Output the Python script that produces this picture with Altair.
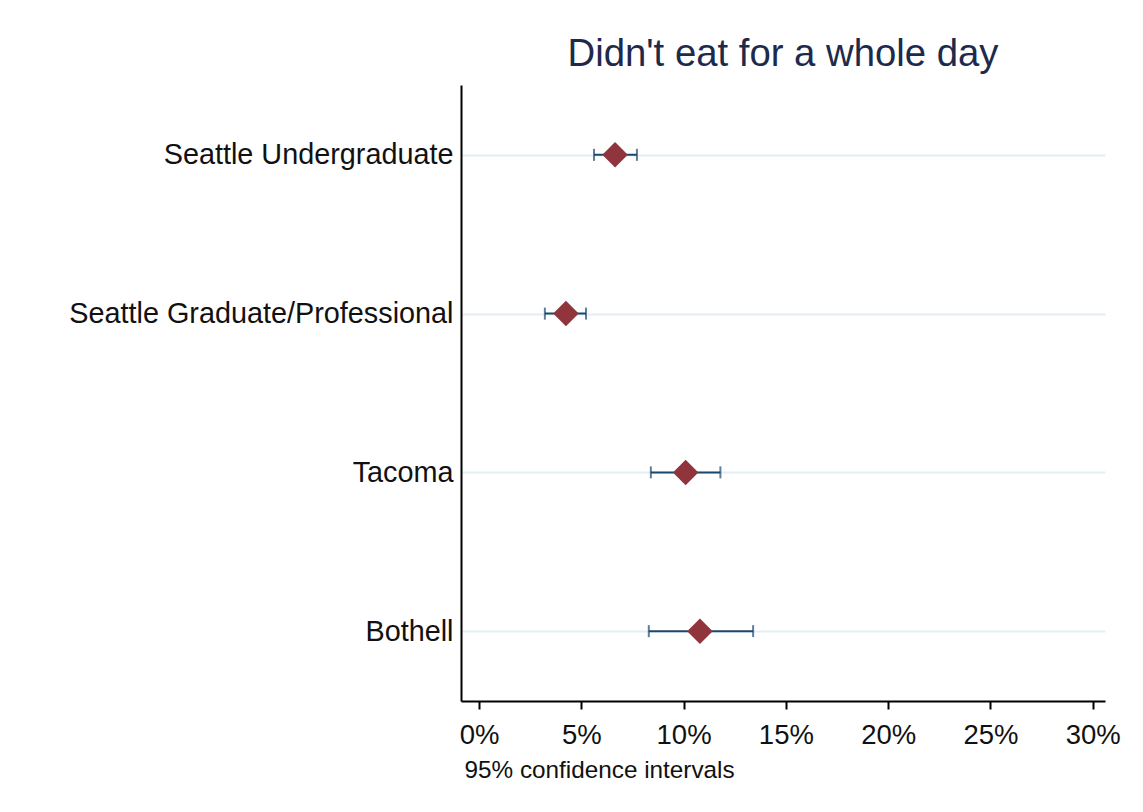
import altair as alt
import pandas as pd

groups = ["Seattle Undergraduate", "Seattle Graduate/Professional", "Tacoma", "Bothell"]
estimate = [0.0665, 0.0425, 0.1010, 0.1080]
ci_low = [0.0562, 0.0322, 0.0840, 0.0830]
ci_high = [0.0772, 0.0523, 0.1180, 0.1340]
x_ticks = [0.0, 0.05, 0.10, 0.15, 0.20, 0.25, 0.30]

df = pd.DataFrame({"group": groups, "est": estimate, "lo": ci_low, "hi": ci_high})

FONT = "Liberation Sans"
NAVY = "#1a476f"
MAROON = "#90353b"

x_scale = alt.Scale(domain=[-0.0088, 0.306], nice=False, zero=False)
y_scale = alt.Scale(type="point", padding=0.44)
y_enc = alt.Y("group:N", sort=groups, scale=y_scale,
              axis=alt.Axis(title=None, ticks=False, labelFontSize=28.8, labelFont=FONT,
                            labelColor="#111111", labelPadding=8, domainColor="#000000",
                            domainWidth=2, grid=True, gridColor="#e4edf1", gridWidth=2,
                            labelLimit=600))

x_axis = alt.Axis(values=x_ticks, format=".0%", title="95% confidence intervals",
                  titleFont=FONT, titleFontSize=24.3, titleFontWeight="normal",
                  titleColor="#111111", titleAnchor="start", titleAlign="left",
                  titleX=3, titlePadding=10,
                  labelFont=FONT, labelFontSize=27.5, labelColor="#111111", labelPadding=12,
                  tickColor="#000000", tickSize=8, tickWidth=2,
                  domainColor="#000000", domainWidth=2, grid=False)

base = alt.Chart(df)

rules = base.mark_rule(color=NAVY, strokeWidth=2).encode(
    x=alt.X("lo:Q", scale=x_scale, axis=x_axis), x2="hi:Q", y=y_enc)
cap_lo = base.mark_tick(color=NAVY, thickness=2, size=12).encode(
    x=alt.X("lo:Q", scale=x_scale), y=alt.Y("group:N", sort=groups, scale=y_scale))
cap_hi = base.mark_tick(color=NAVY, thickness=2, size=12).encode(
    x=alt.X("hi:Q", scale=x_scale), y=alt.Y("group:N", sort=groups, scale=y_scale))
points = base.mark_point(shape="diamond", filled=True, size=650, color=MAROON, opacity=1).encode(
    x=alt.X("est:Q", scale=x_scale), y=alt.Y("group:N", sort=groups, scale=y_scale))

chart = alt.layer(rules, cap_lo, cap_hi, points).properties(
    width=644, height=616,
    title=alt.TitleParams("Didn't eat for a whole day", font=FONT, fontSize=38.3,
                          fontWeight="normal", color="#1e2a4c", anchor="middle",
                          frame="group", offset=11),
    autosize=alt.AutoSizeParams(type="none"),
    padding={"left": 453, "top": 77, "right": 30, "bottom": 100},
).configure(background="white", view=alt.ViewConfig(stroke=None))

chart.save("out.html", embed_options={"renderer": "svg", "actions": False})
